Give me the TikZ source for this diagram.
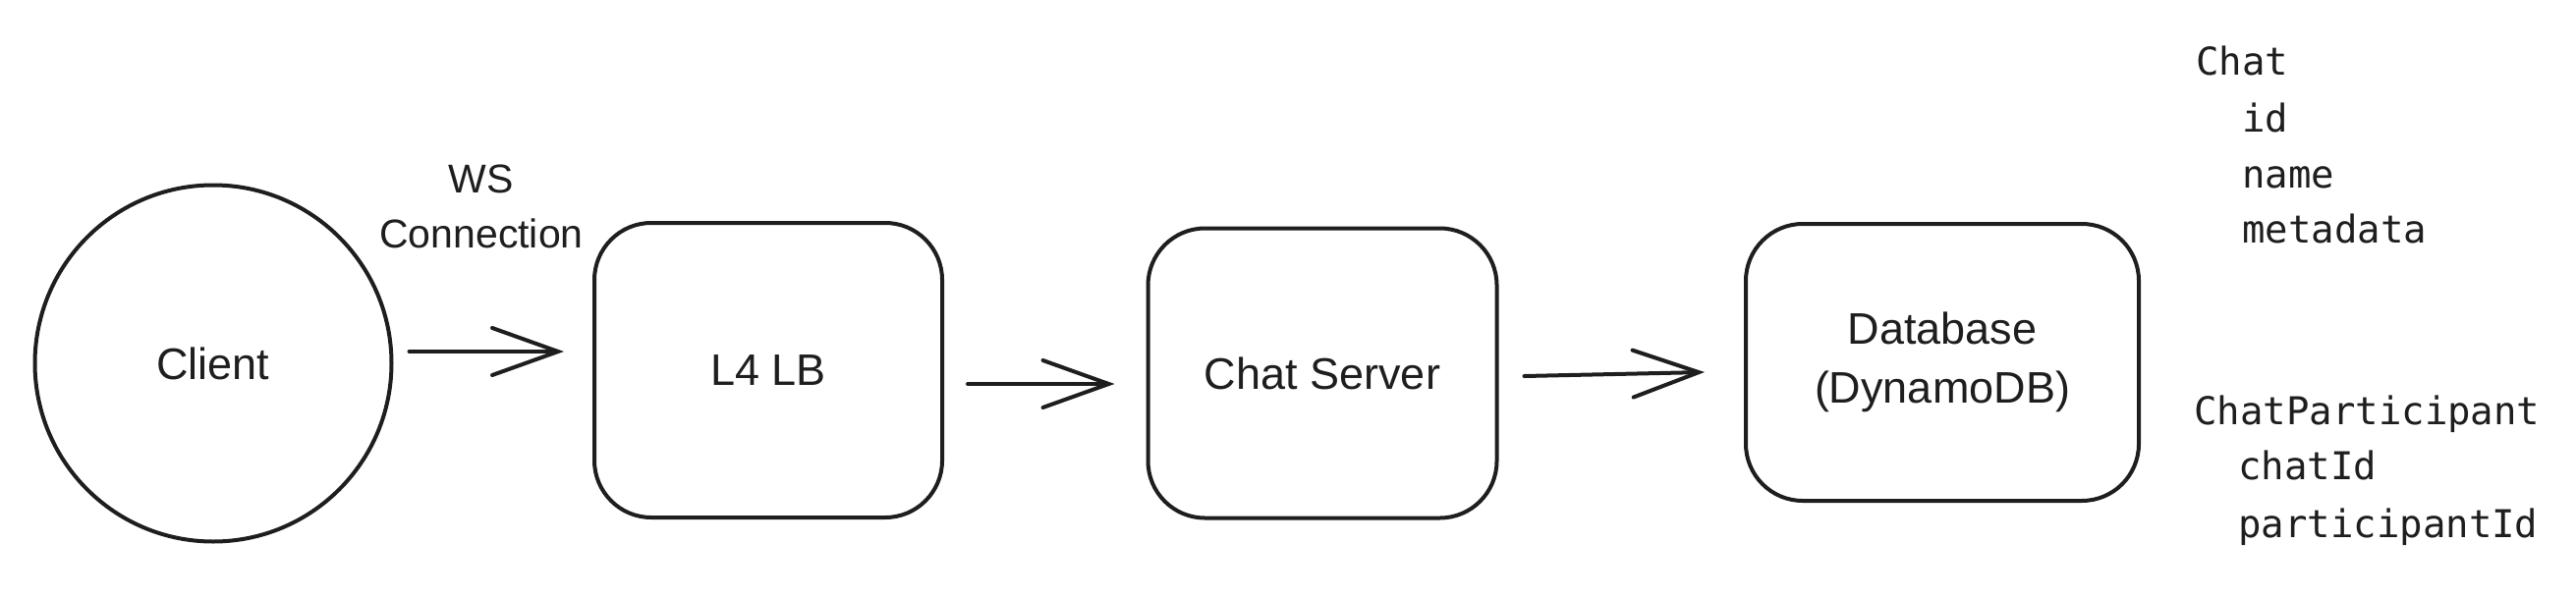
\documentclass[tikz,border=0pt]{standalone}
\usepackage{fontspec}
\setmainfont{Liberation Sans}
\newfontfamily\monofam{DejaVu Sans Mono}
\usetikzlibrary{arrows.meta,calc}
\definecolor{inkcol}{HTML}{1E1E1E}
\tikzset{
  ink/.style={line width=4pt, draw=inkcol},
  blockbox/.style={ink, rectangle, rounded corners=58pt, inner sep=0pt, align=center,
    text=inkcol, font=\fontsize{45}{60}\selectfont},
  clientnode/.style={ink, circle, inner sep=0pt, minimum size=363pt,
    text=inkcol, font=\fontsize{45}{60}\selectfont},
  flow/.style={ink, line cap=round, -{Straight Barb[length=67pt,width=48pt,line cap=round]}},
  labeltext/.style={inner sep=0pt, align=center, text=inkcol, font=\fontsize{41}{56}\selectfont},
  schemtext/.style={inner sep=0pt, anchor=base west, text=inkcol, font=\monofam\fontsize{39}{57}\selectfont}
}
\begin{document}
\begin{tikzpicture}[x=1pt, y=-1pt]
\useasboundingbox (0,0) rectangle (2622,608);
\node[clientnode] (client) at (217,370) {Client};
\node[blockbox, minimum width=354pt, minimum height=300pt] (lb) at (782,377) {L4 LB};
\node[blockbox, minimum width=355pt, minimum height=295pt] (server) at (1346,380) {Chat Server};
\node[blockbox, minimum width=400pt, minimum height=282pt] (db) at (1977,369) {Database\\(DynamoDB)};
\node[labeltext] (wslabel) at (490,210) {WS\\Connection};
\draw[flow] ($(client.east)+(16,-12)$) -- ($(lb.west)+(-29,-19)$);
\draw[flow] ($(lb.east)+(24,14)$) -- ($(server.west)+(-32,11)$);
\draw[flow] ($(server.east)+(26,3)$) -- ($(db.west)+(-40,10)$);
\node[schemtext] (chat) at (2235,76) {Chat};
\node[schemtext] (cid) at (2282,134) {id};
\node[schemtext] (cname) at (2282,191) {name};
\node[schemtext] (cmeta) at (2282,247) {metadata};
\node[schemtext] (cp) at (2233,432) {ChatParticipant};
\node[schemtext] (cpchat) at (2278,488) {chatId};
\node[schemtext] (cppart) at (2278,547) {participantId};
\end{tikzpicture}
\end{document}
